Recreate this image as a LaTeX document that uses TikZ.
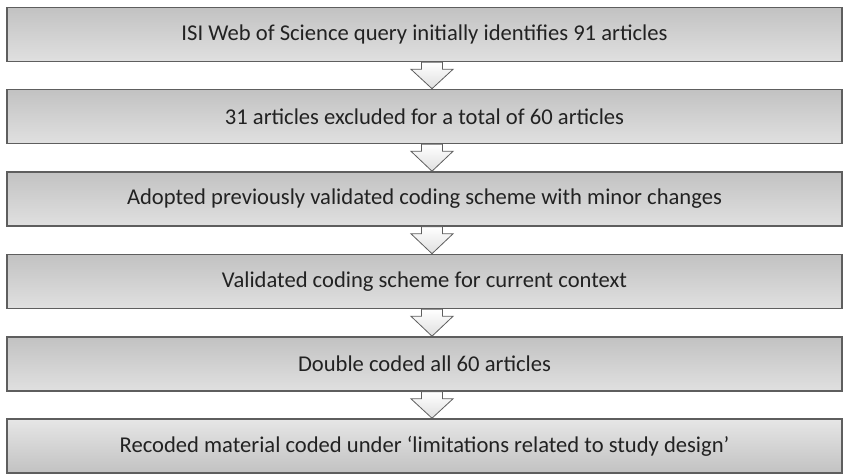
\documentclass[tikz,border=0pt]{standalone}
\usepackage{fontspec}
\setmainfont{Carlito}
\usetikzlibrary{calc}
\definecolor{boxline}{HTML}{5E5E5E}
\definecolor{txt}{HTML}{222222}
\tikzset{
  x=1pt, y=-1pt,
  flowbox/.style={draw=boxline, line width=1.6pt, rectangle, minimum width=835pt,
    minimum height=54pt, inner sep=0pt, top color=boxtop, bottom color=boxbot,
    text=txt, font=\fontsize{22.6}{26}\selectfont},
  lastbox/.style={flowbox, top color=boxbot!80!white, bottom color=boxtop},
  blockarrow/.style={draw=boxline, line width=0.8pt, top color=white, bottom color=gray!25, line join=miter}
}
\definecolor{boxtop}{HTML}{C2C2C2}
\definecolor{boxbot}{HTML}{E0E0E0}
\newcommand{\flowarrow}[2]{%
  \draw[blockarrow] ($(#1.south)+(-3,0)$) -- ($(#1.south)+(18,0)$) -- ($(#1.south)+(18,7)$)
    -- ($(#1.south)+(28.5,7)$) -- ($(#2.north)+(7.5,0)$) -- ($(#1.south)+(-13.5,7)$)
    -- ($(#1.south)+(-3,7)$) -- cycle;}
\begin{document}
\begin{tikzpicture}
\useasboundingbox (0,0) rectangle (847,474);
\node[flowbox] (b1) at (424.5,34.5) {ISI Web of Science query initially identifies 91 articles};
\node[flowbox] (b2) at (424.5,116.5) {31 articles excluded for a total of 60 articles};
\node[flowbox] (b3) at (424.5,199) {Adopted previously validated coding scheme with minor changes};
\node[flowbox] (b4) at (424.5,281.5) {Validated coding scheme for current context};
\node[flowbox] (b5) at (424.5,364) {Double coded all 60 articles};
\node[lastbox] (b6) at (424.5,446) {Recoded material coded under ‘limitations related to study design’};
\flowarrow{b1}{b2}
\flowarrow{b2}{b3}
\flowarrow{b3}{b4}
\flowarrow{b4}{b5}
\flowarrow{b5}{b6}
\end{tikzpicture}
\end{document}
